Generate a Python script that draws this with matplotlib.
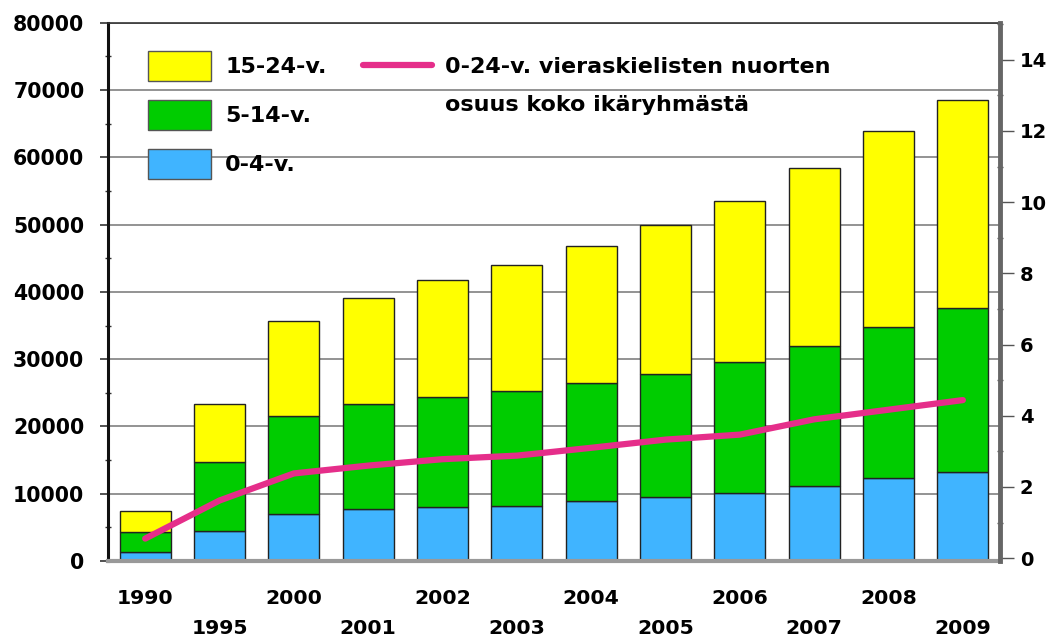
import matplotlib.pyplot as plt
from matplotlib.patches import Patch
from matplotlib.lines import Line2D
from matplotlib.ticker import MultipleLocator

years = ['1990', '1995', '2000', '2001', '2002', '2003',
         '2004', '2005', '2006', '2007', '2008', '2009']
age_0_4 = [1300, 4400, 7000, 7700, 8000, 8200, 8900, 9500, 10100, 11100, 12300, 13300]
age_5_14 = [3000, 10300, 14600, 15700, 16400, 17000, 17500, 18300, 19500, 20900, 22500, 24300]
totals = [7400, 23400, 35700, 39100, 41800, 44000, 46850, 49900, 53500, 58400, 63900, 68500]
age_15_24 = [t - a - b for t, a, b in zip(totals, age_0_4, age_5_14)]
share_pct = [0.55, 1.62, 2.38, 2.6, 2.78, 2.88, 3.1, 3.33, 3.47, 3.9, 4.17, 4.44]

YELLOW = '#FFFF00'
GREEN = '#00CC00'
BLUE = '#40B4FF'
MAGENTA = '#E52E8A'
FONT = 'DejaVu Sans'

plt.rcParams['font.family'] = FONT
plt.rcParams['font.weight'] = 'bold'

fig = plt.figure(figsize=(10.56, 6.36), dpi=100)
ax = fig.add_axes([0.1023, 0.1179, 0.8447, 0.8464])

x = list(range(len(years)))
w = 0.685
bottom2 = age_0_4
bottom3 = [a + b for a, b in zip(age_0_4, age_5_14)]
ax.bar(x, age_0_4, w, color=BLUE, edgecolor='#222222', linewidth=1, zorder=2)
ax.bar(x, age_5_14, w, bottom=bottom2, color=GREEN, edgecolor='#222222', linewidth=1, zorder=2)
ax.bar(x, age_15_24, w, bottom=bottom3, color=YELLOW, edgecolor='#222222', linewidth=1, zorder=2)

ax.set_xlim(-0.5, 11.5)
ax.set_ylim(0, 80000)
ax.yaxis.set_major_locator(MultipleLocator(10000))
ax.yaxis.set_minor_locator(MultipleLocator(5000))
ax.grid(axis='y', which='major', color='#808080', linewidth=1.2, zorder=0)
ax.set_axisbelow(True)

ax.spines['left'].set_linewidth(2.2)
ax.spines['left'].set_color('#111111')
ax.spines['top'].set_linewidth(1.2)
ax.spines['top'].set_color('#333333')
ax.spines['bottom'].set_linewidth(3)
ax.spines['bottom'].set_color('#999999')
ax.spines['right'].set_visible(False)

ax.tick_params(axis='y', which='major', direction='out', length=6, width=1.2,
               color='#333333', pad=11, labelsize=14.8)
ax.tick_params(axis='y', which='minor', direction='inout', length=5, width=1,
               color='#333333')
ax.set_xticks(x)
ax.set_xticklabels(years, fontsize=14.7)
ax.tick_params(axis='x', length=0)
for i, tick in enumerate(ax.xaxis.get_major_ticks()):
    tick.set_pad(19.8 if i % 2 == 0 else 41.5)

ax2 = ax.twinx()
ax2.set_ylim(-0.08, 15.04)
ax2.plot(x, share_pct, color=MAGENTA, linewidth=4.5, solid_capstyle='round',
         solid_joinstyle='round', zorder=3)
ax2.yaxis.set_major_locator(MultipleLocator(2))
ax2.yaxis.set_minor_locator(MultipleLocator(1))
ax2.tick_params(axis='y', which='major', direction='out', length=10, width=1,
                color='#555555', pad=4.3, labelsize=14)
ax2.tick_params(axis='y', which='minor', direction='inout', length=5, width=1,
                color='#555555')
for s in ['left', 'top', 'bottom']:
    ax2.spines[s].set_visible(False)
ax2.spines['right'].set_linewidth(3.5)
ax2.spines['right'].set_color('#666666')

fs = 16
fpx = fs * 100 / 72
handles = [Patch(facecolor=YELLOW, edgecolor='#555555', linewidth=1),
           Patch(facecolor=GREEN, edgecolor='#555555', linewidth=1),
           Patch(facecolor=BLUE, edgecolor='#555555', linewidth=1)]
leg1 = ax2.legend(handles, ['15-24-v.', '5-14-v.', '0-4-v.'],
                  loc='upper left', bbox_to_anchor=(148 / 1056, 1 - 51 / 636),
                  bbox_transform=fig.transFigure, frameon=False, borderpad=0,
                  borderaxespad=0, fontsize=fs, handlelength=63 / fpx,
                  handleheight=1.70, handletextpad=14 / fpx,
                  labelspacing=19 / fpx)
for t in leg1.get_texts():
    t.set_fontweight('bold')
ax2.add_artist(leg1)

line_handles = [Line2D([], [], color=MAGENTA, linewidth=4.5, solid_capstyle='round'),
                Line2D([], [], color='none')]
leg2 = ax2.legend(line_handles, ['0-24-v. vieraskielisten nuorten', 'osuus koko ikäryhmästä'],
                  loc='upper left', bbox_to_anchor=(363 / 1056, 1 - 57 / 636),
                  bbox_transform=fig.transFigure, frameon=False, borderpad=0,
                  borderaxespad=0, fontsize=fs, handlelength=69 / fpx,
                  handletextpad=13 / fpx, labelspacing=0.82)
for t in leg2.get_texts():
    t.set_fontweight('bold')

fig.savefig('out.png', dpi=100)
